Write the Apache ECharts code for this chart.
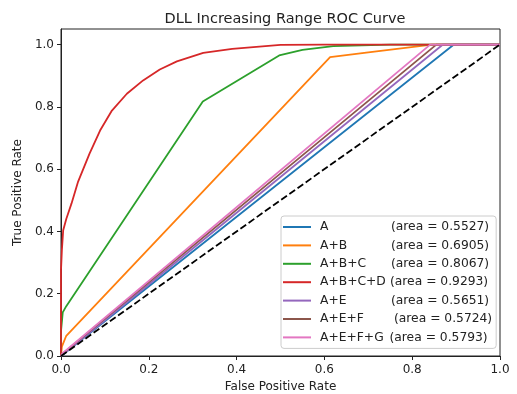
<!DOCTYPE html>
<html>
<head>
<meta charset="utf-8">
<script src="https://cdn.jsdelivr.net/npm/echarts@6/dist/echarts.min.js"></script>
<style>
  html, body { margin: 0; padding: 0; background: #fff; }
  #main { width: 517px; height: 394px; }
</style>
</head>
<body>
<div id="main"></div>
<script>
// 曲线名称与面积
var names = ['A', 'A+B', 'A+B+C', 'A+B+C+D', 'A+E', 'A+E+F', 'A+E+F+G'];
var areas = ['0.5527', '0.6905', '0.8067', '0.9293', '0.5651', '0.5724', '0.5793'];
var colors = ['#1f77b4', '#ff7f0e', '#2ca02c', '#d62728', '#9467bd', '#8c564b', '#e377c2'];

// 各曲线的 FPR / TPR 点
var fprA = [0, 0.003, 0.895, 1];
var tprA = [0, 0.004, 1, 1];
var fprAB = [0, 0.002, 0.012, 0.613, 0.70, 0.845, 1];
var tprAB = [0, 0.03, 0.065, 0.96, 0.975, 1, 1];
var fprABC = [0, 0, 0.004, 0.012, 0.323, 0.497, 0.55, 0.62, 0.75, 1];
var tprABC = [0, 0.08, 0.14, 0.16, 0.817, 0.965, 0.983, 0.995, 1, 1];
var fprABCD = [0, 0, 0.002, 0.005, 0.012, 0.024, 0.039, 0.065, 0.089, 0.115, 0.15, 0.187, 0.225, 0.264, 0.324, 0.39, 0.5, 0.6, 1];
var tprABCD = [0, 0.276, 0.34, 0.404, 0.44, 0.49, 0.56, 0.65, 0.724, 0.786, 0.842, 0.885, 0.92, 0.946, 0.973, 0.986, 0.999, 1, 1];
var fprAE = [0, 0.003, 0.87, 1];
var tprAE = [0, 0.006, 1, 1];
var fprAEF = [0, 0.003, 0.855, 1];
var tprAEF = [0, 0.007, 1, 1];
var fprAEFG = [0, 0.003, 0.841, 1];
var tprAEFG = [0, 0.008, 1, 1];
var fprList = [fprA, fprAB, fprABC, fprABCD, fprAE, fprAEF, fprAEFG];
var tprList = [tprA, tprAB, tprABC, tprABCD, tprAE, tprAEF, tprAEFG];

// 对角参考线
var diagX = [0, 1];
var diagY = [0, 1];

// 刻度
var xTicks = [0, 0.2, 0.4, 0.6, 0.8, 1.0];
var yTicks = [0, 0.2, 0.4, 0.6, 0.8, 1.0];

var FONT = 'DejaVu Sans';
var myChart = echarts.init(document.getElementById('main'));

function zip(xs, ys) {
  return xs.map(function (x, i) { return [x, ys[i]]; });
}

// 图例里 "(area = ...)" 的起点偏移，和原图一致
var nameWidth = { 'A': 71, 'A+B': 71, 'A+B+C': 71, 'A+B+C+D': 70, 'A+E': 71, 'A+E+F': 74, 'A+E+F+G': 69.5 };

var series = names.map(function (n, i) {
  return {
    name: n,
    type: 'line',
    data: zip(fprList[i], tprList[i]),
    symbol: 'none',
    lineStyle: { color: colors[i], width: 1.8 },
    itemStyle: { color: colors[i] },
    animation: false
  };
});
series.push({
  name: 'diag',
  type: 'line',
  data: zip(diagX, diagY),
  symbol: 'none',
  lineStyle: { color: '#000', width: 1.8, type: [7, 3] },
  animation: false
});

var rich = {};
names.forEach(function (n, i) {
  rich['n' + i] = { width: nameWidth[n], fontFamily: FONT, fontSize: 12.3, color: '#222' };
});
rich.a = { fontFamily: FONT, fontSize: 12.3, color: '#222' };

var option = {
  backgroundColor: '#fff',
  animation: false,
  title: {
    text: 'DLL Increasing Range ROC Curve',
    left: 280,
    textAlign: 'center',
    top: 7,
    textStyle: { fontFamily: FONT, fontSize: 14.5, fontWeight: 'normal', color: '#222' }
  },
  grid: {
    left: 61, right: 17, top: 29, bottom: 38,
    outerBoundsMode: 'none',
    containLabel: false,
    show: true, borderColor: '#222', borderWidth: 1, backgroundColor: 'transparent'
  },
  legend: {
    data: names,
    orient: 'vertical',
    left: 281,
    top: 216,
    padding: [4, 4, 4, 2],
    itemWidth: 28,
    itemHeight: 2,
    itemGap: 4.4,
    icon: 'rect',
    backgroundColor: '#fff',
    borderColor: '#ccc',
    borderWidth: 1,
    borderRadius: 3,
    textStyle: { fontFamily: FONT, fontSize: 12.3, color: '#222', lineHeight: 14, padding: [0, 0, 0, 4], rich: rich },
    formatter: function (name) {
      var i = names.indexOf(name);
      return '{n' + i + '|' + name + '}{a|(area = ' + areas[i] + ')}';
    }
  },
  xAxis: {
    type: 'value',
    min: 0, max: 1, interval: 0.2,
    name: 'False Positive Rate',
    nameLocation: 'middle',
    nameGap: 25,
    nameTextStyle: { fontFamily: FONT, fontSize: 12, color: '#222' },
    axisLine: { lineStyle: { color: '#222' } },
    axisTick: { show: true, length: 4, lineStyle: { color: '#222' } },
    axisLabel: {
      fontFamily: FONT, fontSize: 12, color: '#222', margin: 8,
      formatter: function (v) { return xTicks.indexOf(v) >= 0 ? v.toFixed(1) : ''; }
    },
    splitLine: { show: false }
  },
  yAxis: {
    type: 'value',
    min: 0, max: 1.05, interval: 0.2,
    name: 'True Positive Rate',
    nameLocation: 'middle',
    nameGap: 32,
    nameTextStyle: { fontFamily: FONT, fontSize: 12, color: '#222' },
    axisLine: { show: true, lineStyle: { color: '#222' } },
    axisTick: { show: true, length: 4, lineStyle: { color: '#222' } },
    axisLabel: {
      fontFamily: FONT, fontSize: 12, color: '#222', margin: 7, showMaxLabel: false,
      formatter: function (v) {
        var r = Math.round(v * 10) / 10;
        return yTicks.indexOf(r) >= 0 && Math.abs(r - v) < 1e-6 ? r.toFixed(1) : '';
      }
    },
    splitLine: { show: false }
  },
  series: series
};

myChart.setOption(option);
</script>
</body>
</html>
